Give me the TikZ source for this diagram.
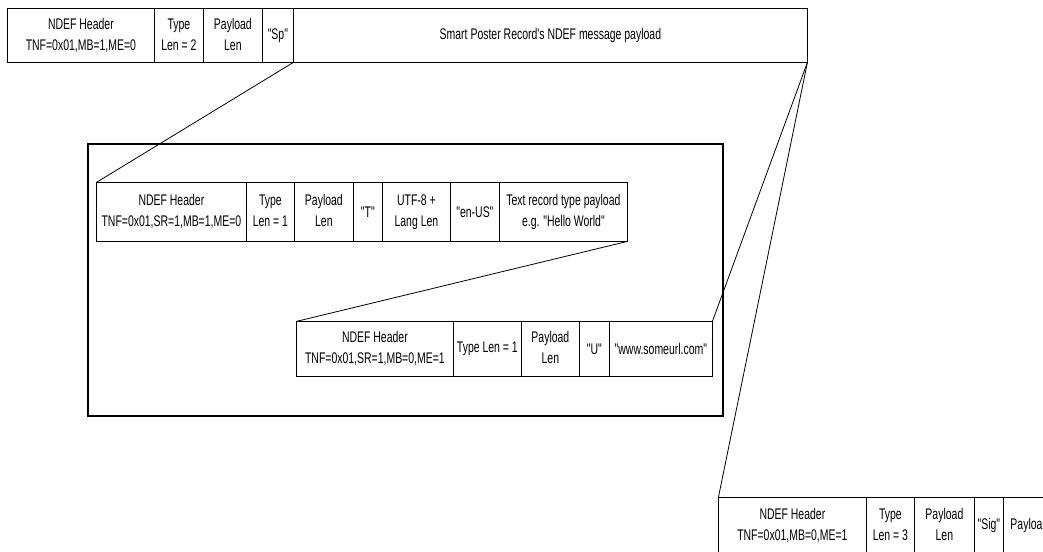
\documentclass[tikz,border=0pt]{standalone}
\usepackage{fontspec}
\setmainfont{Liberation Sans}[FakeStretch=0.68, Ligatures=TeXOff]
\usetikzlibrary{matrix}

\newcommand{\recfont}{\fontsize{15.4}{21}\selectfont}
\newcommand{\twolines}[2]{\begin{tabular}{@{}c@{}}#1\\#2\end{tabular}}

\tikzset{
	rec/.style={matrix of nodes, anchor=north west, inner sep=0pt, outer sep=0pt,
		column sep=-\pgflinewidth,
		nodes={draw, anchor=center, inner sep=1pt, font=\recfont}},
	frame/.style={draw, line width=1.8pt, anchor=north west, inner sep=0pt,
		minimum width=635pt, minimum height=272pt},
}

\begin{document}
\begin{tikzpicture}[x=1pt, y=-1pt, line width=0.8pt]
	\useasboundingbox (0,0) rectangle (1043,551);
	\clip (0,0) rectangle (1043,551);
	% embedded records sit in a frame
	\node (box) [frame] at (87,143) {};
	% smart poster record
	\matrix (sp) at (7,8) [rec, nodes={minimum height=54pt}]{
		|[minimum width=147pt]| \twolines{NDEF Header}{TNF=0x01,MB=1,ME=0} &|[minimum width=49pt]| \twolines{Type}{Len = 2} &|[minimum width=59pt]| \twolines{Payload}{Len} &|[minimum width=31pt]| "Sp" &|[minimum width=514pt]| Smart Poster Record's NDEF message payload \\
	};
	% text record
	\matrix (tx) at (96,182) [rec, nodes={minimum height=59pt}]{
		|[minimum width=150pt]| \twolines{NDEF Header}{TNF=0x01,SR=1,MB=1,ME=0} &|[minimum width=48pt]| \twolines{Type}{Len = 1} &|[minimum width=59pt]| \twolines{Payload}{Len} &|[minimum width=29pt]| "T" &|[minimum width=68pt]| \twolines{UTF-8 +}{Lang Len} &|[minimum width=49pt]| "en-US" &|[minimum width=128pt]| \twolines{Text record type payload}{e.g. "Hello World"} \\
	};
	% uri record
	\matrix (uri) at (296,321) [rec, nodes={minimum height=55pt}]{
		|[minimum width=157pt]| \twolines{NDEF Header}{TNF=0x01,SR=1,MB=0,ME=1} &|[minimum width=68pt]| Type Len = 1 &|[minimum width=58pt]| \twolines{Payload}{Len} &|[minimum width=30pt]| "U" &|[minimum width=103pt]| "www.someurl.com" \\
	};
	% signature record
	\matrix (sig) at (718,497) [rec, nodes={minimum height=56pt}]{
		|[minimum width=148pt]| \twolines{NDEF Header}{TNF=0x01,MB=0,ME=1} &|[minimum width=48pt]| \twolines{Type}{Len = 3} &|[minimum width=60pt]| \twolines{Payload}{Len} &|[minimum width=29pt]| "Sig" &|[minimum width=52pt]| Payload \\
	};
	% expansion lines
	\draw (sp-1-4.south east) -- (tx-1-1.north west);
	\draw (tx-1-7.south east) -- (uri-1-1.north west);
	\draw (sp-1-5.south east) -- (uri-1-5.north east);
	\draw (sp-1-5.south east) -- (sig-1-1.north west);
\end{tikzpicture}
\end{document}
